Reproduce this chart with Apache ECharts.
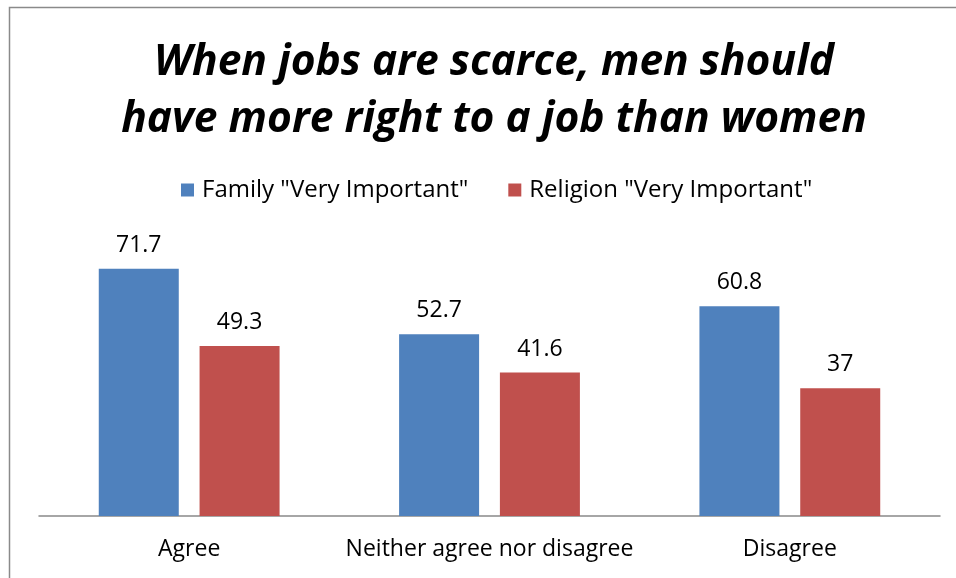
<!DOCTYPE html>
<html>
<head>
<meta charset="utf-8">
<script src="https://cdn.jsdelivr.net/npm/echarts@6/dist/echarts.min.js"></script>
<style>
  html, body { margin: 0; padding: 0; background: #fff; }
  #chart { width: 956px; height: 578px; }
</style>
</head>
<body>
<div id="chart"></div>
<script>
// Share of respondents by answer, split by which value they rate "very important"
const categories = ['Agree', 'Neither agree nor disagree', 'Disagree'];
const familyValues = [71.7, 52.7, 60.8];
const religionValues = [49.3, 41.6, 37];
const seriesNames = ['Family "Very Important"', 'Religion "Very Important"'];
const titleText = 'When jobs are scarce, men should\nhave more right to a job than women';

const bodyFont = 'Open Sans';
const bodySize = 23;
const chart = echarts.init(document.getElementById('chart'));

const labelStyle = {
  show: true,
  position: 'top',
  distance: 12,
  color: '#000',
  fontFamily: bodyFont,
  fontSize: bodySize
};

chart.setOption({
  animation: false,
  backgroundColor: '#fff',
  title: {
    text: titleText,
    left: 489,
    top: 29,
    textAlign: 'center',
    textStyle: {
      fontFamily: bodyFont,
      fontStyle: 'italic',
      fontWeight: 'bold',
      fontSize: 42.5,
      lineHeight: 57,
      color: '#000'
    }
  },
  legend: {
    top: 173,
    left: 176,
    itemWidth: 13,
    itemHeight: 13,
    itemGap: 40,
    icon: 'rect',
    textStyle: {
      fontFamily: bodyFont,
      fontSize: 24,
      color: '#000',
      padding: [0, 0, 0, 3]
    },
    data: seriesNames
  },
  grid: { left: 39, right: 16, top: 240, bottom: 62 },
  xAxis: {
    type: 'category',
    data: categories,
    axisLine: { lineStyle: { color: '#898989', width: 1.5 } },
    axisTick: { show: false },
    axisLabel: { interval: 0, color: '#000', fontFamily: bodyFont, fontSize: bodySize, margin: 22 }
  },
  yAxis: {
    type: 'value',
    min: 0,
    max: 80,
    show: false,
    splitLine: { show: false }
  },
  series: [
    {
      name: seriesNames[0],
      type: 'bar',
      data: familyValues,
      barWidth: 80,
      barGap: '26%',
      itemStyle: { color: '#4f81bd' },
      label: labelStyle
    },
    {
      name: seriesNames[1],
      type: 'bar',
      data: religionValues,
      barWidth: 80,
      itemStyle: { color: '#c0504d' },
      label: labelStyle
    }
  ],
  graphic: [
    {
      type: 'polyline',
      shape: { points: [[9.5, 578], [9.5, 7.5], [956, 7.5]] },
      style: { stroke: '#8a8a8a', lineWidth: 1.5, fill: null },
      silent: true
    }
  ]
});
</script>
</body>
</html>
